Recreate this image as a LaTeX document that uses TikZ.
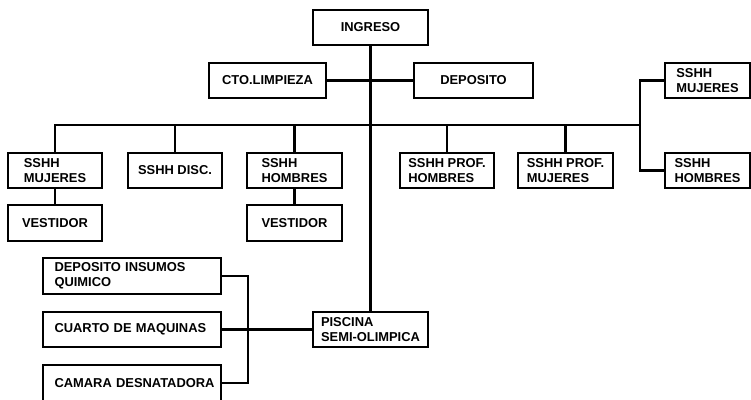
\documentclass[tikz,border=0pt]{standalone}
\usepackage{fontspec}
\setmainfont{Liberation Sans}
\usepackage{tikz}
\newcommand{\grosor}[0]{2.8pt}

\begin{document}
\begin{tikzpicture}[x=1pt, y=-1pt, line width=\grosor]
  \tikzset{caja/.style={draw, rectangle, align=left, inner sep=0pt, minimum height=35pt,
      font=\fontsize{12.9}{15.5}\selectfont\bfseries},
    cajaizq/.style={caja, text width=155pt, inner xsep=11.5pt}}
  \clip (0,0) rectangle (751,399);
  \node[caja, minimum width=115pt] (ingreso) at (370.5,27.5) {INGRESO};
  \node[caja, minimum width=117pt] (limpieza) at (267.5,80.5) {CTO.LIMPIEZA};
  \node[caja, minimum width=119pt] (deposito) at (473.5,80.5) {DEPOSITO};
  \node[caja, minimum width=94pt] (mujeres) at (55,170.5) {SSHH\\MUJERES};
  \node[caja, minimum width=94pt] (disc) at (175,170.5) {SSHH DISC.};
  \node[caja, minimum width=95pt] (hombres) at (294.5,170.5) {SSHH\\HOMBRES};
  \node[caja, minimum width=94pt] (profh) at (447,170.5) {SSHH PROF.\\HOMBRES};
  \node[caja, minimum width=95pt] (profm) at (565.5,170.5) {SSHH PROF.\\MUJERES};
  \node[caja, minimum width=85pt] (mujeresR) at (707.5,80.5) {SSHH\\MUJERES};
  \node[caja, minimum width=85pt] (hombresR) at (707.5,170.5) {SSHH\\HOMBRES};
  \node[caja, minimum width=94pt, minimum height=36pt] (vestidor-1) at (55,223) {VESTIDOR};
  \node[caja, minimum width=95pt, minimum height=36pt] (vestidor-2) at (294.5,223) {VESTIDOR};
  \node[cajaizq, minimum height=36pt] (insumos) at (132,276) {\mbox{DEPOSITO INSUMOS}\\QUIMICO};
  \node[cajaizq] (cuarto) at (132,329.5) {\mbox{CUARTO DE MAQUINAS}};
  \node[cajaizq, minimum height=36pt] (camara) at (132,383) {\mbox{CAMARA DESNATADORA}};
  \node[caja, minimum width=115pt] (piscina) at (370.5,329.5) {PISCINA\\SEMI-OLIMPICA};
  \coordinate (bifurca) at (640,125);
  \coordinate (union) at (248,329.5);
  \draw (ingreso) -- (piscina);
  \draw (limpieza) -- (deposito);
  \draw (mujeres.north) |- (bifurca);
  \foreach \n in {disc,hombres,profh,profm}
    \draw (\n.north) -- (\n.north |- bifurca);
  \draw (mujeresR.west) -| (bifurca) |- (hombresR.west);
  \draw (mujeres) -- (vestidor-1);
  \draw (hombres) -- (vestidor-2);
  \draw (insumos.east) -| (union) |- (camara.east);
  \draw (cuarto) -- (piscina);
\end{tikzpicture}
\end{document}
